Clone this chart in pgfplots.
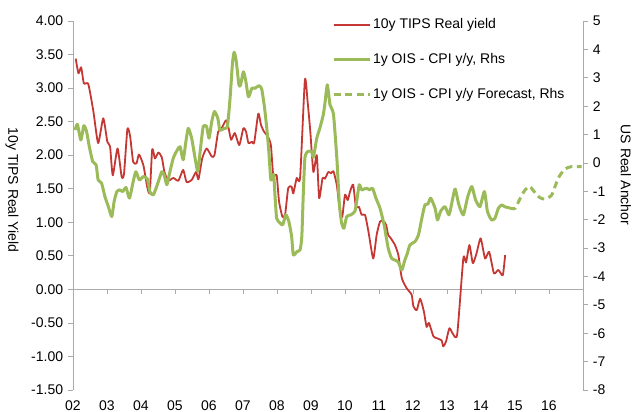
\documentclass[border=0pt]{standalone}
\usepackage{fontspec}
\setmainfont{Liberation Sans}
\usepackage{pgfplots}
\usepackage{pgfplotstable}
\pgfplotsset{compat=1.18}
\definecolor{tipsred}{RGB}{197,55,50}
\definecolor{oisgreen}{RGB}{155,187,89}
\definecolor{axgray}{RGB}{170,170,170}

\pgfplotstableread{
x y
2002.08 3.44
2002.16 3.22
2002.24 3.31
2002.32 3.07
2002.45 3.06
2002.60 2.65
2002.74 2.18
2002.89 2.55
2003.01 2.20
2003.09 2.13
2003.17 1.70
2003.31 2.10
2003.43 1.68
2003.50 1.72
2003.60 2.39
2003.68 2.28
2003.77 1.90
2003.87 1.88
2003.94 2.01
2004.07 1.85
2004.19 1.51
2004.26 1.45
2004.33 2.09
2004.41 1.95
2004.51 2.04
2004.61 1.97
2004.69 1.75
2004.80 1.62
2004.95 1.66
2005.10 1.62
2005.24 1.78
2005.34 1.60
2005.49 1.63
2005.62 1.75
2005.69 1.64
2005.80 1.95
2005.93 2.10
2006.08 1.98
2006.16 2.00
2006.27 2.35
2006.37 2.40
2006.50 2.52
2006.57 2.42
2006.65 2.23
2006.76 2.33
2006.89 2.15
2007.01 2.40
2007.09 2.35
2007.16 2.18
2007.26 2.20
2007.33 2.19
2007.45 2.62
2007.53 2.45
2007.62 2.35
2007.73 2.28
2007.82 2.15
2007.89 1.70
2007.99 1.70
2008.06 1.31
2008.16 1.08
2008.24 1.12
2008.33 1.51
2008.43 1.53
2008.48 1.43
2008.58 1.66
2008.68 1.67
2008.82 3.12
2008.90 2.80
2008.98 2.35
2009.07 1.75
2009.17 2.00
2009.24 1.36
2009.34 1.66
2009.41 1.65
2009.51 1.75
2009.59 1.73
2009.66 1.76
2009.76 1.55
2009.85 1.16
2009.92 1.08
2010.00 1.41
2010.08 1.33
2010.15 1.46
2010.24 1.56
2010.32 1.23
2010.41 1.23
2010.49 1.11
2010.59 1.11
2010.69 0.86
2010.83 0.46
2010.93 0.81
2011.03 1.01
2011.13 1.02
2011.21 0.96
2011.27 0.81
2011.35 0.76
2011.47 0.66
2011.57 0.51
2011.67 0.17
2011.81 0.02
2011.96 -0.08
2012.01 -0.25
2012.11 -0.31
2012.21 -0.14
2012.32 -0.33
2012.40 -0.56
2012.47 -0.50
2012.60 -0.70
2012.71 -0.73
2012.84 -0.76
2012.89 -0.85
2012.97 -0.78
2013.07 -0.58
2013.17 -0.66
2013.30 -0.67
2013.48 0.46
2013.56 0.40
2013.66 0.66
2013.76 0.39
2013.87 0.54
2013.99 0.76
2014.12 0.46
2014.24 0.56
2014.38 0.24
2014.51 0.29
2014.64 0.21
2014.71 0.51
}\redtbl

\pgfplotstableread{
x y
2002.06 1.16
2002.13 1.36
2002.23 0.81
2002.32 1.31
2002.40 1.10
2002.48 0.57
2002.58 0.05
2002.68 -0.07
2002.74 -0.60
2002.84 -0.71
2002.94 -1.19
2003.04 -1.54
2003.14 -1.89
2003.21 -1.36
2003.29 -1.01
2003.38 -0.95
2003.46 -1.01
2003.56 -0.87
2003.66 -1.24
2003.77 -0.66
2003.85 -0.31
2003.95 -0.60
2004.07 -0.48
2004.19 -0.57
2004.26 -1.01
2004.36 -1.13
2004.48 -0.77
2004.61 -0.31
2004.68 -0.42
2004.76 -0.77
2004.83 -0.42
2004.95 0.17
2005.07 0.46
2005.15 0.57
2005.24 0.11
2005.32 0.75
2005.39 1.22
2005.49 0.87
2005.59 0.17
2005.67 -0.30
2005.74 0.40
2005.83 1.28
2005.93 1.28
2006.00 0.87
2006.08 1.45
2006.16 1.81
2006.26 1.57
2006.32 1.16
2006.45 1.22
2006.54 1.28
2006.62 2.28
2006.69 3.51
2006.74 3.90
2006.80 3.60
2006.88 2.75
2006.93 2.75
2007.01 3.21
2007.08 2.90
2007.16 2.33
2007.26 2.63
2007.35 2.63
2007.47 2.72
2007.55 2.60
2007.63 1.98
2007.70 1.22
2007.76 0.40
2007.82 -0.60
2007.90 -0.40
2007.94 -1.13
2007.99 -1.95
2008.09 -2.12
2008.17 -2.18
2008.26 -1.83
2008.35 -2.07
2008.43 -2.59
2008.48 -3.24
2008.59 -3.12
2008.68 -3.06
2008.73 -2.59
2008.77 -1.20
2008.82 0.17
2008.90 0.40
2009.02 0.40
2009.07 0.20
2009.17 0.87
2009.26 1.22
2009.36 1.69
2009.41 2.10
2009.48 2.75
2009.56 2.04
2009.66 1.72
2009.76 0.17
2009.83 -1.36
2009.90 -2.12
2009.97 -2.30
2010.05 -1.89
2010.17 -1.83
2010.29 -1.71
2010.35 -1.30
2010.42 -0.77
2010.49 -0.95
2010.56 -0.92
2010.64 -0.89
2010.72 -0.95
2010.81 -0.89
2010.91 -1.24
2011.03 -1.60
2011.15 -2.18
2011.27 -3.00
2011.37 -3.36
2011.47 -3.42
2011.57 -3.50
2011.67 -3.77
2011.76 -3.42
2011.83 -3.20
2011.91 -2.89
2012.06 -2.77
2012.16 -2.54
2012.26 -1.95
2012.35 -1.48
2012.44 -1.45
2012.52 -1.24
2012.65 -1.60
2012.72 -2.01
2012.81 -1.71
2012.94 -1.54
2013.06 -1.83
2013.16 -1.30
2013.24 -0.92
2013.35 -1.48
2013.48 -1.83
2013.61 -1.19
2013.73 -0.83
2013.84 -1.30
2013.97 -1.54
2014.10 -1.01
2014.19 -1.71
2014.31 -2.01
2014.41 -1.95
2014.51 -1.60
2014.61 -1.48
2014.71 -1.55
2014.82 -1.58
}\greentbl

\pgfplotstableread{
x y
2014.82 -1.58
2015.00 -1.60
2015.20 -1.13
2015.32 -0.92
2015.44 -0.83
2015.64 -1.13
2015.76 -1.24
2015.88 -1.27
2016.08 -1.13
2016.27 -0.54
2016.47 -0.21
2016.67 -0.13
2016.96 -0.13
}\fcsttbl

\begin{document}
\fontsize{14}{16}\selectfont
\begin{tikzpicture}
\useasboundingbox (-73pt,-22pt) rectangle (560pt,390pt);
\pgfplotsset{
  base/.style={
    width=510pt, height=369pt, scale only axis,
    xmin=2002, xmax=2017,
    at={(0pt,0pt)}, anchor=south west,
    font=\fontsize{14}{16}\selectfont,
    tick style={axgray, line width=0.8pt},
    axis line style={axgray, line width=0.8pt},
    /pgf/number format/assume math mode=true,
    major tick length=5pt,
  },
}
% zero line with year ticks
\begin{axis}[base, ymin=-1.5, ymax=4,
  axis x line=middle, axis y line=none,
  every inner x axis line/.append style={-},
  x axis line style={-},
  xtick={2003,2004,2005,2006,2007,2008,2009,2010,2011,2012,2013,2014,2015,2016},
  xticklabels={}, xtick align=outside,
]
\end{axis}
% left axis: 10y TIPS
\begin{axis}[base, ymin=-1.5, ymax=4,
  axis y line*=left, axis x line*=bottom,
  x axis line style={draw=none},
  xtick={2002,2003,2004,2005,2006,2007,2008,2009,2010,2011,2012,2013,2014,2015,2016},
  xticklabels={02,03,04,05,06,07,08,09,10,11,12,13,14,15,16},
  xtick style={draw=none}, xtick align=inside,
  xticklabel style={inner sep=0.8pt, yshift=-9.5pt},
  ytick={-1.5,-1,-0.5,0,0.5,1,1.5,2,2.5,3,3.5,4},
  ytick align=outside,
  yticklabel style={/pgf/number format/.cd, fixed, fixed zerofill, precision=2},
  ylabel={10y TIPS Real Yield},
  ylabel style={rotate=180, at={(axis description cs:-0.1196,0.542)}, anchor=center},
]
\addplot[tipsred, line width=1.8pt, line join=round, smooth, tension=0.35] table {\redtbl};
\end{axis}
% right axis: 1y OIS - CPI
\begin{axis}[base, ymin=-8, ymax=5,
  axis y line*=right, axis x line=none,
  ytick={-8,-7,-6,-5,-4,-3,-2,-1,0,1,2,3,4,5},
  ytick align=outside,
  ylabel={US Real Anchor},
  ylabel style={rotate=180, at={(axis description cs:1.084,0.583)}, anchor=center},
  legend image code/.code={\draw[#1] (0pt,0pt) -- (36pt,0pt);},
  legend style={draw=none, fill=none, inner sep=0pt, outer sep=0pt,
    at={(axis description cs:0.508,1.012)}, anchor=north west,
    row sep=18.5pt, nodes={inner sep=2pt}, font=\fontsize{14}{16}\selectfont},
  legend cell align=left,
]
\addlegendimage{tipsred, line width=1.8pt}
\addlegendentry{10y TIPS Real yield}
\addplot[oisgreen, line width=3pt, line join=round, smooth, tension=0.35] table {\greentbl};
\addlegendentry{1y OIS - CPI y/y, Rhs}
\addplot[oisgreen, line width=3pt, smooth, tension=0.35, dash pattern=on 7pt off 4.5pt] table {\fcsttbl};
\addlegendentry{1y OIS - CPI y/y Forecast, Rhs}
\end{axis}
\end{tikzpicture}
\end{document}
